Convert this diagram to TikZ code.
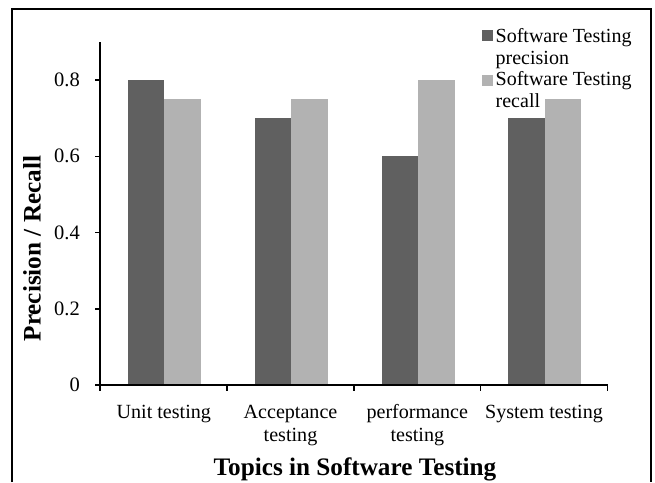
\documentclass[tikz,border=0pt]{standalone}
\usepackage{fontspec}
\setmainfont{Liberation Serif}
\definecolor{darkbar}{HTML}{606060}
\definecolor{lightbar}{HTML}{B2B2B2}
\begin{document}
\begin{tikzpicture}[x=1pt,y=-1pt,
  frameline/.style={line width=1.5pt,black},
  axisline/.style={line width=2.2pt,black},
  tickline/.style={line width=1.5pt,black},
  precbar/.style={fill=darkbar,draw=none},
  recbar/.style={fill=lightbar,draw=none},
  ticklab/.style={inner sep=0pt,font=\fontsize{20.5}{23}\selectfont},
  catlab/.style={inner sep=0pt,align=center,anchor=base,font=\fontsize{20.1}{23}\selectfont},
  leglab/.style={inner sep=0pt,align=left,anchor=north west,font=\fontsize{20}{21.7}\selectfont},
  axtitle/.style={inner sep=0pt,font=\fontsize{25.2}{30}\selectfont\bfseries}]
\useasboundingbox (0,0) rectangle (655,482);
% outer frame
\draw[frameline] (12,482) -- (12,9) -- (651,9) -- (651,482);
% bars
\def\bw{36.5}
\foreach \s/\p/\r [count=\i] in {100/0.8/0.75, 227/0.7/0.75, 354/0.6/0.8, 480.7/0.7/0.75}{
  \path[precbar] (\s+27.5,385) rectangle (\s+27.5+\bw,{385-381.25*\p});
  \path[recbar] (\s+27.5+\bw,385) rectangle (\s+27.5+2*\bw,{385-381.25*\r});
}
% axes
\coordinate (O) at (100,385);
\coordinate (ytop) at (100,42);
\coordinate (xend) at (607.7,385);
\draw[axisline] (ytop) -- (O) -- (xend);
\foreach \v in {0,0.2,0.4,0.6,0.8}{
  \draw[tickline] (95,{385-381.25*\v}) -- (100,{385-381.25*\v});
}
\foreach \x in {100,227,354,480.7,607.7}{
  \draw[tickline] (\x,385) -- (\x,391);
}
% y tick labels
\node[ticklab,anchor=east] (y0) at (80,385) {0};
\node[ticklab,anchor=east] (y2) at (80,{385-381.25*0.2}) {0.2};
\node[ticklab,anchor=east] (y4) at (80,{385-381.25*0.4}) {0.4};
\node[ticklab,anchor=east] (y6) at (80,{385-381.25*0.6}) {0.6};
\node[ticklab,anchor=east] (y8) at (80,{385-381.25*0.8}) {0.8};
% category labels
\node[catlab] (c1) at (163.8,418) {Unit testing};
\node[catlab] (c2) at (290.5,441) {Acceptance\\testing};
\node[catlab] (c3) at (417.3,441) {performance\\testing};
\node[catlab] (c4) at (544,418) {System testing};
% axis titles
\node[axtitle,anchor=base] (xt) at (355,475) {Topics in Software Testing};
\node[axtitle,rotate=90] (yt) at (32,248.5) {Precision / Recall};
% legend
\path[precbar] (481.7,30) rectangle (492.7,41);
\path[recbar] (481.7,75) rectangle (492.7,86);
\node[leglab] (l1) at (495.5,28.5) {Software Testing\\precision};
\node[leglab] (l2) at (495.5,71.5) {Software Testing\\recall};
\end{tikzpicture}
\end{document}
